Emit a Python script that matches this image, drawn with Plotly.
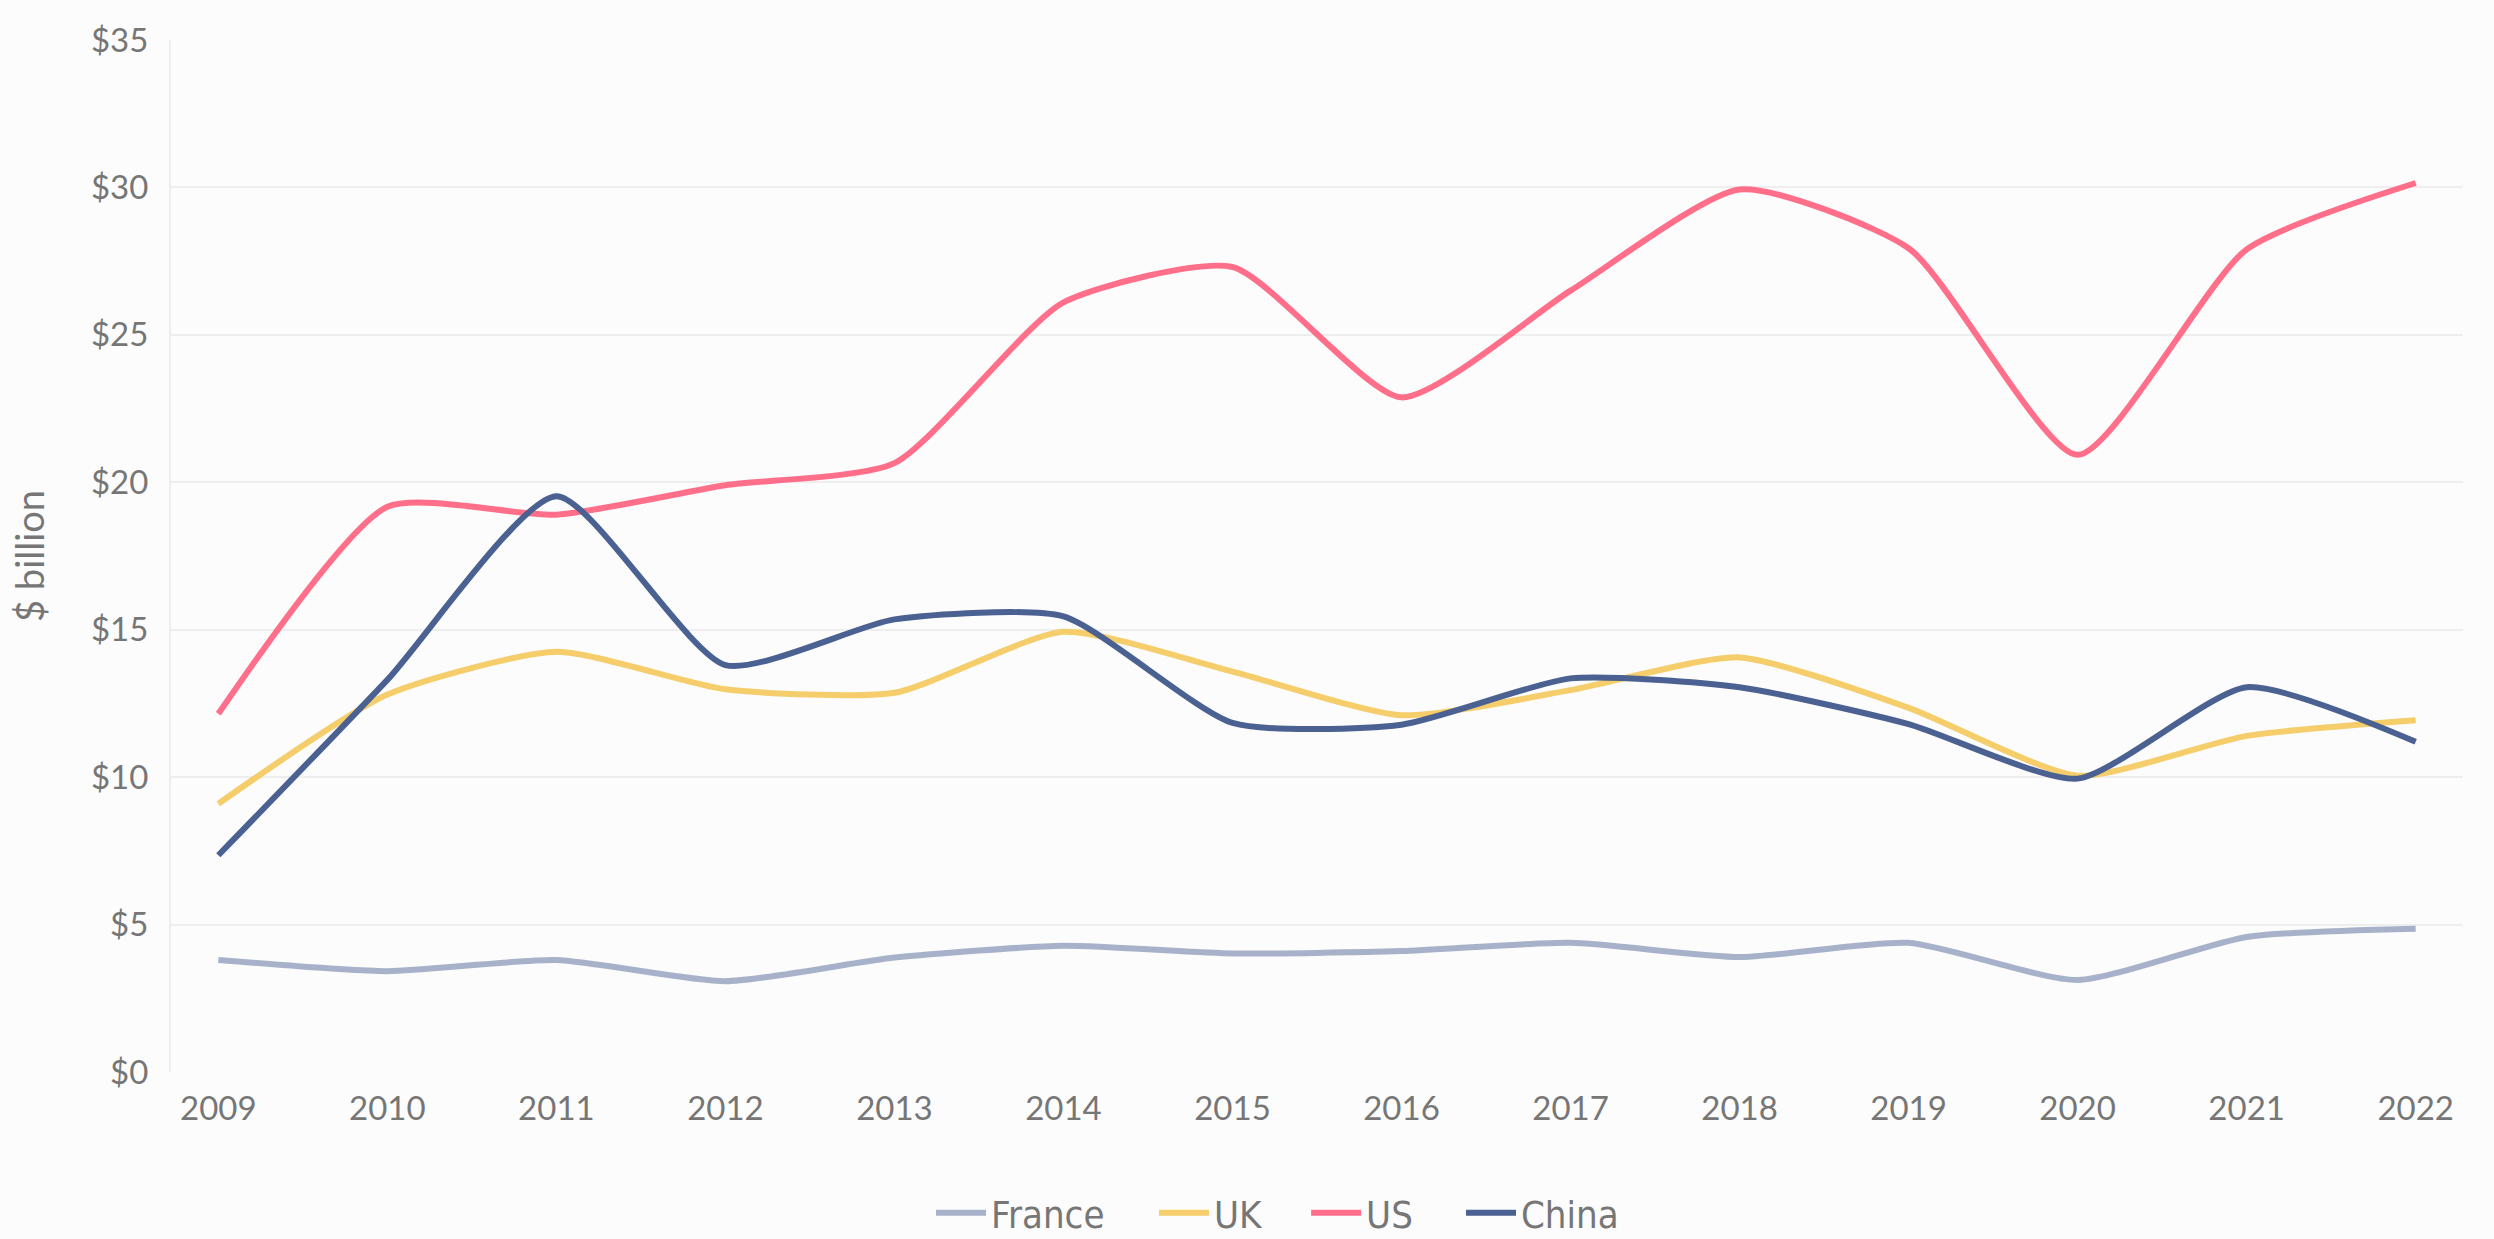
import plotly.graph_objects as go

years = list(range(2009, 2023))
year_labels = [str(y) for y in years]

france = [3.8, 3.42, 3.8, 3.08, 3.88, 4.28, 4.02, 4.1, 4.38, 3.9, 4.38, 3.12, 4.58, 4.86]
uk = [9.1, 12.8, 14.25, 12.98, 12.86, 14.93, 13.58, 12.1, 12.95, 14.06, 12.35, 10.05, 11.4, 11.93]
us = [12.15, 19.17, 18.9, 19.9, 20.65, 26.1, 27.3, 22.88, 26.5, 29.93, 27.94, 20.93, 27.9, 30.15]
china = [7.35, 13.3, 19.53, 13.8, 15.35, 15.45, 11.84, 11.78, 13.35, 13.05, 11.8, 9.95, 13.05, 11.2]

series = [
    ("France", france, "#a7b2ca"),
    ("UK", uk, "#f5cd6a"),
    ("US", us, "#ff6f8a"),
    ("China", china, "#4a6191"),
]

y_ticks = [0, 5, 10, 15, 20, 25, 30, 35]
y_tick_labels = ["$" + str(v) for v in y_ticks]

legend_names = ["legend", "legend2", "legend3", "legend4"]
legend_x = [0.3733, 0.4627, 0.5237, 0.5858]

fig = go.Figure()
for (name, vals, color), lg in zip(series, legend_names):
    fig.add_trace(go.Scatter(
        x=years, y=vals, name=name, mode="lines", legend=lg,
        line=dict(color=color, width=6, shape="spline", smoothing=0.6),
    ))

tick_font = dict(family="Lato, sans-serif", size=33, color="#767676")
legend_font = dict(family="DejaVu Sans Condensed, DejaVu Sans, sans-serif", size=38, color="#767676")

layout_legends = {}
for lg, lx in zip(legend_names, legend_x):
    layout_legends[lg] = dict(
        orientation="h", xref="container", yref="container",
        x=lx, xanchor="left", y=0.021, yanchor="middle",
        font=legend_font, itemwidth=50, bgcolor="rgba(0,0,0,0)",
    )

fig.update_layout(
    width=2494, height=1239,
    paper_bgcolor="#fcfcfc", plot_bgcolor="#fcfcfc",
    margin=dict(l=171, r=31, t=40, b=167, autoexpand=False),
    showlegend=True,
    xaxis=dict(
        range=[2008.72, 2022.28], tickmode="array", tickvals=years, ticktext=year_labels,
        showgrid=False, zeroline=False, showline=False, ticks="",
        tickfont=tick_font, ticklabelstandoff=14,
    ),
    yaxis=dict(
        range=[0, 35], tickmode="array", tickvals=y_ticks, ticktext=y_tick_labels,
        showgrid=True, gridcolor="#eeeeee", gridwidth=2, zeroline=False,
        showline=True, linecolor="#eeeeee", linewidth=2, ticks="",
        tickfont=tick_font, ticklabelstandoff=14,
    ),
    annotations=[dict(
        text="$ billion", textangle=-90, xref="paper", yref="paper",
        x=-0.062, y=0.5, xanchor="center", yanchor="middle", showarrow=False,
        font=dict(family="Lato, sans-serif", size=38, color="#767676"),
    )],
    **layout_legends,
)

fig.write_html(
    "out.html",
    config={"displayModeBar": False},
    post_script="document.body.style.margin='0';document.body.style.overflow='hidden';",
)
